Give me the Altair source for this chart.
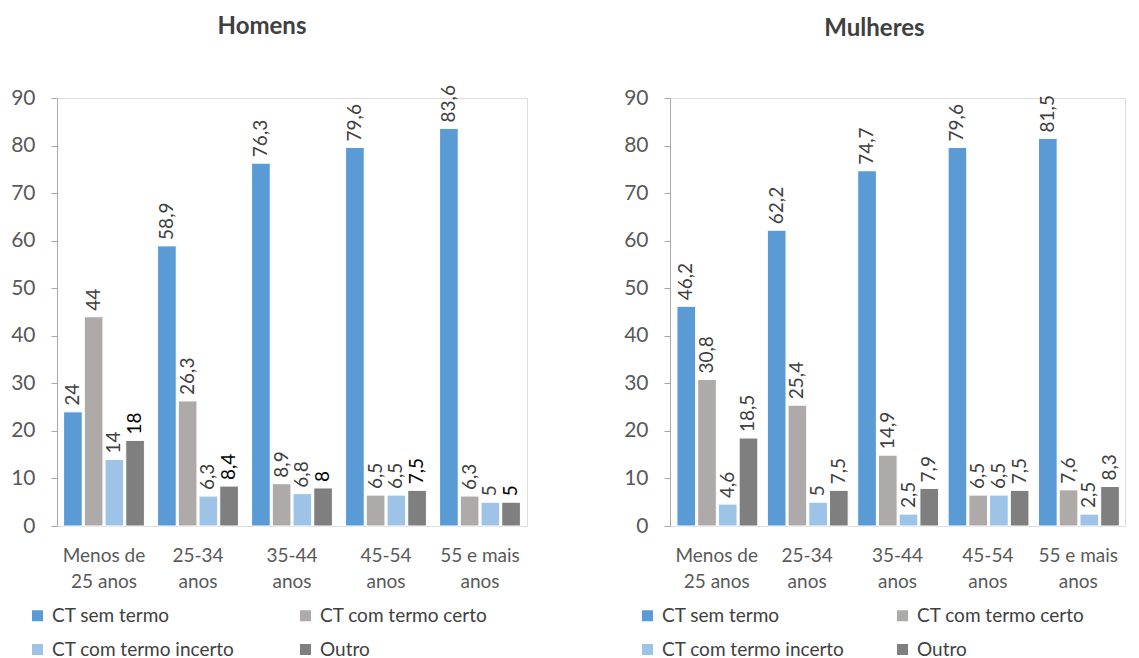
import altair as alt
import pandas as pd

categories = ["Menos de|25 anos", "25-34|anos", "35-44|anos", "45-54|anos", "55 e mais|anos"]
series = ["CT sem termo", "CT com termo certo", "CT com termo incerto", "Outro"]

homens_sem_termo = [24, 58.9, 76.3, 79.6, 83.6]
homens_termo_certo = [44, 26.3, 8.9, 6.5, 6.3]
homens_termo_incerto = [14, 6.3, 6.8, 6.5, 5]
homens_outro = [18, 8.4, 8, 7.5, 5]

mulheres_sem_termo = [46.2, 62.2, 74.7, 79.6, 81.5]
mulheres_termo_certo = [30.8, 25.4, 14.9, 6.5, 7.6]
mulheres_termo_incerto = [4.6, 5, 2.5, 6.5, 2.5]
mulheres_outro = [18.5, 7.5, 7.9, 7.5, 8.3]

colors = ["#5B9BD5", "#AEAAAA", "#9DC3E6", "#7F7F7F"]
y_ticks = [0, 10, 20, 30, 40, 50, 60, 70, 80, 90]

FONT = "Lato"


def fmt(v):
    return f"{v:g}".replace(".", ",")


def panel(title, vals, outro_color, width, pad_inner, pad_outer,
          title_dx, title_offset, legend_x, col_pad):
    rows = []
    for s, arr in zip(series, vals):
        for c, v in zip(categories, arr):
            rows.append(dict(cat=c, series=s, value=v, label=fmt(v)))
    df = pd.DataFrame(rows)
    base = alt.Chart(df).encode(
        x=alt.X(
            "cat:N",
            sort=categories,
            scale=alt.Scale(paddingInner=pad_inner, paddingOuter=pad_outer),
            axis=alt.Axis(
                title=None,
                labelAngle=0,
                labelExpr="split(datum.label, '|')",
                domain=False,
                ticks=False,
                labelFontSize=19,
                labelColor="#595959",
                labelPadding=20,
                labelLineHeight=26,
                labelFont=FONT,
            ),
        ),
        xOffset=alt.XOffset("series:N", sort=series, scale=alt.Scale(paddingInner=0.1)),
        y=alt.Y(
            "value:Q",
            scale=alt.Scale(domain=[0, 90]),
            axis=alt.Axis(
                title=None,
                values=y_ticks,
                grid=False,
                domainColor="#A6A6A6",
                tickColor="#A6A6A6",
                tickSize=6,
                labelFontSize=21,
                labelColor="#595959",
                labelPadding=16,
                labelFont=FONT,
            ),
        ),
    )
    bars = base.mark_bar(stroke="white", strokeWidth=1).encode(
        color=alt.Color(
            "series:N",
            sort=series,
            scale=alt.Scale(domain=series, range=colors),
            legend=alt.Legend(
                title=None,
                orient="none",
                legendX=legend_x,
                legendY=508,
                direction="horizontal",
                columns=2,
                columnPadding=col_pad,
                rowPadding=14,
                symbolType="square",
                symbolSize=121,
                symbolStrokeWidth=0,
                labelFontSize=19,
                labelColor="#404040",
                labelFont=FONT,
                labelOffset=5,
                labelLimit=300,
            ),
        )
    )
    text = base.mark_text(
        angle=270, align="left", baseline="middle", dx=6, fontSize=19, font=FONT
    ).encode(
        text="label:N",
        color=alt.condition(
            alt.datum.series == "Outro", alt.value(outro_color), alt.value("#404040")
        ),
    )
    return alt.layer(bars, text).properties(
        width=width,
        height=428,
        title=alt.TitleParams(
            title,
            fontSize=24,
            fontWeight="bold",
            color="#404040",
            font=FONT,
            dx=title_dx,
            offset=title_offset,
        ),
    )


left = panel(
    "Homens",
    [homens_sem_termo, homens_termo_certo, homens_termo_incerto, homens_outro],
    "#000000",
    470, 0.14, 0.07,
    -30, 46, -29, 61,
)
right = panel(
    "Mulheres",
    [mulheres_sem_termo, mulheres_termo_certo, mulheres_termo_incerto, mulheres_outro],
    "#404040",
    455, 0.12, 0.077,
    -23, 46, -32, 48,
)

chart = (
    alt.hconcat(left, right, spacing=95)
    .resolve_scale(color="independent")
    .resolve_legend(color="independent")
    .properties(padding={"left": 10, "top": 14, "right": 5, "bottom": 0})
    .configure_view(stroke=None)
    .configure(font=FONT)
)

chart.save("out.html", embed_options={"renderer": "svg", "actions": False})
